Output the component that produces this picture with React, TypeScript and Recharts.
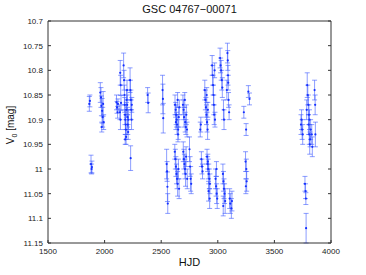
import React from 'react';
import { ScatterChart, Scatter, XAxis, YAxis, ErrorBar } from 'recharts';

const title = 'GSC 04767−00071';
const xLabel = 'HJD';
const xTicks = [1500, 2000, 2500, 3000, 3500, 4000];
const yTicks = [10.7, 10.75, 10.8, 10.85, 10.9, 10.95, 11, 11.05, 11.1, 11.15];

const hjd = [
  1865, 1870, 1880, 1885, 1888,
  1962, 1968, 1972, 1978, 1983, 1987, 1992, 1975,
  2105, 2110, 2115, 2118, 2138, 2142, 2145, 2140, 2135, 2168, 2172, 2175, 2178, 2180, 2183, 2186, 2188, 2190, 2192, 2195, 2198, 2200, 2203, 2205, 2208, 2210, 2182, 2225, 2228, 2232, 2235, 2238, 2230, 2240,
  2380, 2385,
  2512, 2515, 2518, 2548, 2552, 2555, 2558,
  2622, 2628, 2632, 2636, 2640, 2645, 2650, 2655, 2660, 2648, 2630,
  2620, 2625, 2630, 2635, 2640, 2645, 2652, 2658,
  2692, 2698, 2702, 2708, 2712, 2718, 2722, 2728,
  2695, 2700, 2705, 2710, 2715, 2720, 2730,
  2750, 2755, 2760, 2765,
  2845, 2850, 2855, 2860, 2865, 2885, 2890, 2895, 2900, 2905, 2910, 2912, 2902, 2905, 2910, 2915, 2920, 2925, 2930, 2918, 2928, 2912,
  2950, 2955, 2958, 2962, 2965, 2968, 2972, 2975, 2980, 2985, 2990, 2995, 2988,
  3020, 3025, 3030, 3035, 3040, 3045, 3050, 3055, 3060, 3065, 3048, 3050, 3055,
  3085, 3088, 3090, 3092, 3080, 3095, 3100, 3105, 3110, 3120, 3125,
  3270, 3280, 3230, 3250, 3245, 3252, 3255, 3248,
  3740, 3745, 3750, 3735, 3790, 3795, 3800, 3805, 3810, 3785, 3802, 3808, 3812, 3815, 3820, 3830, 3835, 3855, 3860, 3862, 3770, 3775, 3778, 3780,
];

const mag = [
  10.868, 10.862, 10.99, 11.0, 10.996,
  10.845, 10.855, 10.872, 10.882, 10.895, 10.868, 10.905, 10.915,
  10.865, 10.875, 10.885, 10.868, 10.805, 10.83, 10.866, 10.9, 10.885, 10.79, 10.82, 10.85, 10.87, 10.89, 10.9, 10.91, 10.92, 10.935, 10.88, 10.86, 10.84, 10.87, 10.895, 10.91, 10.925, 10.9, 10.94, 10.82, 10.84, 10.86, 10.88, 10.9, 10.978, 10.87,
  10.85, 10.866,
  10.84, 10.858, 10.897, 10.99, 11.005, 11.036, 11.07,
  10.87, 10.88, 10.89, 10.9, 10.91, 10.86, 10.92, 10.895, 10.875, 10.93, 10.905,
  10.965, 10.98, 10.995, 11.01, 11.02, 11.03, 11.0, 11.04,
  10.87, 10.88, 10.895, 10.86, 10.905, 10.915, 10.89, 10.92,
  10.965, 10.98, 10.99, 11.0, 11.01, 10.975, 11.02,
  10.96, 10.995, 11.02, 11.03,
  10.92, 10.91, 10.98, 10.995, 11.005, 10.84, 10.86, 10.875, 10.89, 10.905, 10.92, 10.88, 10.85, 10.975, 10.99, 11.0, 11.01, 11.02, 11.03, 11.045, 11.06, 10.985,
  10.79, 10.81, 10.83, 10.85, 10.87, 10.89, 10.8, 10.9, 11.02, 11.035, 11.05, 11.06, 11.0,
  10.775, 10.79, 10.8, 10.82, 10.835, 11.01, 11.025, 11.04, 11.05, 11.065, 11.075, 10.88, 10.9,
  10.765, 10.78, 10.81, 10.825, 10.84, 10.86, 10.885, 11.06, 11.07, 11.08, 11.065,
  10.843, 10.858, 10.885, 10.92, 10.985, 11.0, 11.025, 11.035,
  10.9, 10.92, 10.93, 10.91, 10.83, 10.85, 10.87, 10.89, 10.9, 10.88, 10.91, 10.93, 10.95, 10.94, 10.92, 10.93, 10.955, 10.84, 10.87, 10.93, 11.03, 11.045, 11.06, 11.12,
];

const err = [
  0.015, 0.012, 0.018, 0.01, 0.012,
  0.02, 0.02, 0.02, 0.025, 0.02, 0.025, 0.015, 0.01,
  0.015, 0.012, 0.012, 0.01, 0.025, 0.02, 0.015, 0.02, 0.015, 0.025, 0.02, 0.02, 0.015, 0.02, 0.02, 0.02, 0.02, 0.015, 0.015, 0.02, 0.02, 0.02, 0.02, 0.02, 0.015, 0.02, 0.01, 0.025, 0.02, 0.02, 0.02, 0.02, 0.025, 0.015,
  0.015, 0.02,
  0.03, 0.03, 0.03, 0.03, 0.02, 0.03, 0.02,
  0.02, 0.015, 0.02, 0.015, 0.02, 0.015, 0.02, 0.02, 0.015, 0.015, 0.015,
  0.015, 0.02, 0.02, 0.02, 0.02, 0.025, 0.02, 0.02,
  0.02, 0.02, 0.02, 0.015, 0.02, 0.015, 0.02, 0.015,
  0.02, 0.02, 0.02, 0.02, 0.025, 0.02, 0.02,
  0.025, 0.02, 0.025, 0.02,
  0.015, 0.015, 0.015, 0.015, 0.015, 0.02, 0.02, 0.02, 0.02, 0.02, 0.02, 0.015, 0.015, 0.015, 0.015, 0.02, 0.02, 0.02, 0.02, 0.02, 0.02, 0.015,
  0.02, 0.02, 0.02, 0.02, 0.02, 0.02, 0.015, 0.015, 0.02, 0.02, 0.02, 0.02, 0.015,
  0.02, 0.015, 0.02, 0.02, 0.02, 0.02, 0.02, 0.02, 0.02, 0.025, 0.02, 0.02, 0.02,
  0.02, 0.02, 0.02, 0.015, 0.02, 0.015, 0.015, 0.02, 0.02, 0.02, 0.02,
  0.012, 0.012, 0.012, 0.012, 0.02, 0.02, 0.02, 0.015,
  0.02, 0.02, 0.02, 0.02, 0.025, 0.02, 0.02, 0.02, 0.02, 0.02, 0.02, 0.02, 0.02, 0.015, 0.02, 0.02, 0.02, 0.02, 0.02, 0.025, 0.015, 0.015, 0.012, 0.03,
];

const data = hjd.map((h, i) => ({ hjd: h, mag: mag[i], err: err[i] }));

const FONT = '"Liberation Sans", Arial, Helvetica, sans-serif';
const AXIS = '#333';
const fmtY = (v: number) => String(Number(v.toFixed(2)));

const BottomTick = (p: any) => (
  <g>
    <line x1={p.x} x2={p.x} y1={p.y} y2={p.y - 3} stroke={AXIS} strokeWidth={1} />
    <text x={p.x} y={p.y + 11} textAnchor="middle" fontSize={8} fontFamily={FONT} fill="#222">
      {p.payload.value}
    </text>
  </g>
);
const TopTick = (p: any) => (
  <line x1={p.x} x2={p.x} y1={p.y} y2={p.y + 3} stroke={AXIS} strokeWidth={1} />
);
const LeftTick = (p: any) => (
  <g>
    <line x1={p.x} x2={p.x + 3} y1={p.y} y2={p.y} stroke={AXIS} strokeWidth={1} />
    <text x={p.x - 5} y={p.y + 3} textAnchor="end" fontSize={8} fontFamily={FONT} fill="#222">
      {fmtY(p.payload.value)}
    </text>
  </g>
);
const RightTick = (p: any) => (
  <line x1={p.x} x2={p.x - 3} y1={p.y} y2={p.y} stroke={AXIS} strokeWidth={1} />
);

const Dot = (p: any) => <circle cx={p.cx} cy={p.cy} r={1.1} fill="#1530ff" />;

export default function App() {
  return (
    <div style={{ position: 'absolute', left: 0, top: 0, width: 366, height: 275, background: '#fff', fontFamily: FONT }}>
      <ScatterChart width={366} height={275} margin={{ top: 16, right: 30, bottom: 12, left: 18 }}>
        <XAxis xAxisId={0} dataKey="hjd" type="number" domain={[1500, 4000]} ticks={xTicks} height={20}
          tickSize={0} tickMargin={0} tickLine={false} tick={<BottomTick />} stroke={AXIS} allowDataOverflow />
        <XAxis xAxisId="top" orientation="top" type="number" domain={[1500, 4000]} ticks={xTicks} height={5}
          tickSize={0} tickMargin={0} tickLine={false} tick={<TopTick />} stroke={AXIS} allowDataOverflow />
        <YAxis yAxisId={0} dataKey="mag" type="number" domain={[10.7, 11.15]} ticks={yTicks} reversed width={30}
          tickSize={0} tickMargin={0} tickLine={false} tick={<LeftTick />} stroke={AXIS} allowDataOverflow />
        <YAxis yAxisId="right" orientation="right" type="number" domain={[10.7, 11.15]} ticks={yTicks} reversed width={5}
          tickSize={0} tickMargin={0} tickLine={false} tick={<RightTick />} stroke={AXIS} allowDataOverflow />
        <Scatter data={data} dataKey="mag" xAxisId={0} yAxisId={0} shape={Dot} isAnimationActive={false}>
          <ErrorBar dataKey="err" direction="y" width={2.5} stroke="#3f5cff" strokeOpacity={0.6} strokeWidth={1} isAnimationActive={false} />
        </Scatter>
      </ScatterChart>
      <div style={{ position: 'absolute', left: 48, width: 283, top: 3, textAlign: 'center', fontSize: 11, lineHeight: '13px', color: '#111' }}>
        {title}
      </div>
      <div style={{ position: 'absolute', left: 48, width: 283, top: 256, textAlign: 'center', fontSize: 11, lineHeight: '13px', color: '#111' }}>
        {xLabel}
      </div>
      <div style={{ position: 'absolute', left: 13, top: 125, width: 0, height: 0 }}>
        <div style={{ position: 'absolute', transform: 'translate(-50%, -50%) rotate(-90deg)', whiteSpace: 'nowrap', fontSize: 10, lineHeight: '12px', color: '#111' }}>
          V<sub style={{ fontSize: 7 }}>0</sub> [mag]
        </div>
      </div>
    </div>
  );
}
